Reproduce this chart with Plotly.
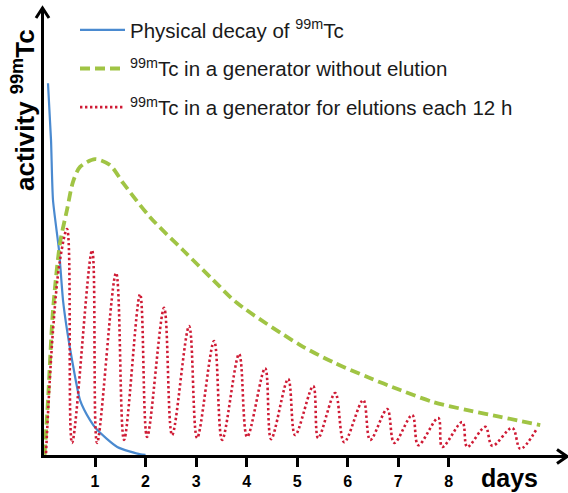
import plotly.graph_objects as go

# ---- data (days, relative activity) ----
blue_days = [0.069, 0.129, 0.168, 0.287, 0.366, 0.446, 0.545, 0.703, 0.901, 1.04, 1.44, 1.90, 2.0]
blue_vals = [100.5, 85.2, 69.1, 55.6, 42.2, 34.1, 26.1, 15.3, 9.9, 7.3, 2.7, 0.7, 0.6]

green_days = [0.0, 0.069, 0.168, 0.307, 0.446, 0.564, 0.703, 1.0, 1.297, 1.554, 2.089, 2.743,
              3.337, 3.812, 5.06, 5.71, 6.39, 7.04, 7.69, 8.37, 9.02, 9.81]
green_vals = [0.6, 15.3, 39.5, 57.5, 66.5, 74.0, 78.0, 80.1, 78.5, 73.7, 64.5, 55.6,
              47.6, 41.4, 30.1, 25.5, 21.5, 18.0, 14.8, 12.6, 10.8, 8.6]

red_start_days = [0.03, 0.168, 0.307]
red_start_vals = [1.0, 34.0, 53.0]
red_peak_days = [0.446, 0.941, 1.416, 1.891, 2.366, 2.861, 3.356, 3.851, 4.366, 4.822,
                 5.317, 5.752, 6.307, 6.782, 7.277, 7.792, 8.267, 8.723, 9.257, 9.752]
red_peak_vals = [61.3, 55.6, 49.5, 43.8, 40.1, 35.2, 31.2, 27.7, 23.9, 21.0,
                 19.1, 17.2, 15.3, 12.9, 11.3, 10.5, 9.4, 8.1, 7.8, 7.8]
red_trough_days = [0.545, 1.04, 1.574, 2.03, 2.525, 3.02, 3.515, 4.01, 4.485, 4.96,
                   5.416, 5.931, 6.446, 6.921, 7.396, 7.871, 8.366, 8.861, 9.416]
red_trough_vals = [3.8, 3.8, 4.6, 5.4, 5.9, 5.1, 4.6, 5.4, 4.8, 5.9,
                   5.1, 4.0, 4.6, 3.8, 3.2, 2.7, 2.7, 3.0, 2.2]

tick_vals = [1, 2, 3, 4, 5, 6, 7, 8]
tick_text = ["1", "2", "3", "4", "5", "6", "7", "8"]

name_blue = "Physical decay of <sup>99m</sup>Tc"
name_green = "<sup>99m</sup>Tc in a generator without elution"
name_red = "<sup>99m</sup>Tc in a generator for elutions each 12 h"
y_label = "activity <sup>99m</sup>Tc"

# interleave peaks and troughs for the elution curve
red_x = list(red_start_days)
red_y = list(red_start_vals)
for i in range(len(red_peak_days)):
    red_x.append(red_peak_days[i]); red_y.append(red_peak_vals[i])
    if i < len(red_trough_days):
        red_x.append(red_trough_days[i]); red_y.append(red_trough_vals[i])

BLUE = "#4a8ad0"
GREEN = "#a0c444"
RED = "#cf1b35"
FONT = "Liberation Sans, Arial, sans-serif"

fig = go.Figure()
fig.add_trace(go.Scatter(x=blue_days, y=blue_vals, mode="lines", name=name_blue,
                         legendgroup="a",
                         line=dict(color=BLUE, width=2.2, shape="spline", smoothing=0.6)))
fig.add_trace(go.Scatter(x=green_days, y=green_vals, mode="lines", name=name_green,
                         legendgroup="b",
                         line=dict(color=GREEN, width=3.8, dash="10px,5px", shape="spline",
                                   smoothing=0.8)))
fig.add_trace(go.Scatter(x=red_x, y=red_y, mode="lines", name=name_red,
                         legendgroup="c",
                         line=dict(color=RED, width=2.6, dash="2.4px,2.6px", shape="spline")))

L, R, T, B = 44, 2, 10, 38
W, H = 568, 493
pw, ph = W - L - R, H - T - B

def px(x):
    return (x - L) / pw

def py(y):
    return (H - B - y) / ph

arrow_y = "M %f,%f L %f,%f L %f,%f" % (px(36), py(18), px(42.5), py(8), px(49), py(18))
arrow_x = "M %f,%f L %f,%f L %f,%f" % (px(557), py(449.5), px(567), py(456.5), px(557), py(463.5))

fig.update_layout(
    width=W, height=H,
    margin=dict(l=L, r=R, t=T, b=B),
    paper_bgcolor="white", plot_bgcolor="white",
    font=dict(family=FONT, color="#111111"),
    showlegend=True,
    legend=dict(x=px(75), y=py(10), xanchor="left", yanchor="top",
                font=dict(size=20.5, family=FONT, color="#1a1a1a"),
                bgcolor="rgba(0,0,0,0)", itemwidth=45,
                traceorder="grouped", tracegroupgap=9),
    xaxis=dict(range=[-0.01, 10.32], showgrid=False, zeroline=False,
               showline=True, linecolor="black", linewidth=3,
               ticks="outside", ticklen=9, tickwidth=2.5, tickcolor="black",
               tickvals=tick_vals, ticktext=tick_text, ticklabelstandoff=1,
               tickfont=dict(size=16, family=FONT, color="black", weight="bold")),
    yaxis=dict(range=[0.54, 120.2], showgrid=False, zeroline=False,
               showline=True, linecolor="black", linewidth=3,
               showticklabels=False, ticks=""),
    shapes=[
        dict(type="path", xref="paper", yref="paper", path=arrow_y,
             line=dict(color="black", width=3)),
        dict(type="path", xref="paper", yref="paper", path=arrow_x,
             line=dict(color="black", width=3)),
    ],
    annotations=[
        dict(text="days", xref="paper", yref="paper", x=px(509), y=py(478),
             xanchor="center", yanchor="middle", showarrow=False,
             font=dict(size=25, family=FONT, color="black", weight="bold")),
        dict(text=y_label, xref="paper", yref="paper",
             x=px(23), y=py(110), xanchor="center", yanchor="middle",
             textangle=-90, showarrow=False,
             font=dict(size=26, family=FONT, color="black", weight="bold")),
    ],
)

fig.write_html("out.html", config={"displayModeBar": False},
               post_script="document.body.style.margin='0';document.body.style.padding='0';")
